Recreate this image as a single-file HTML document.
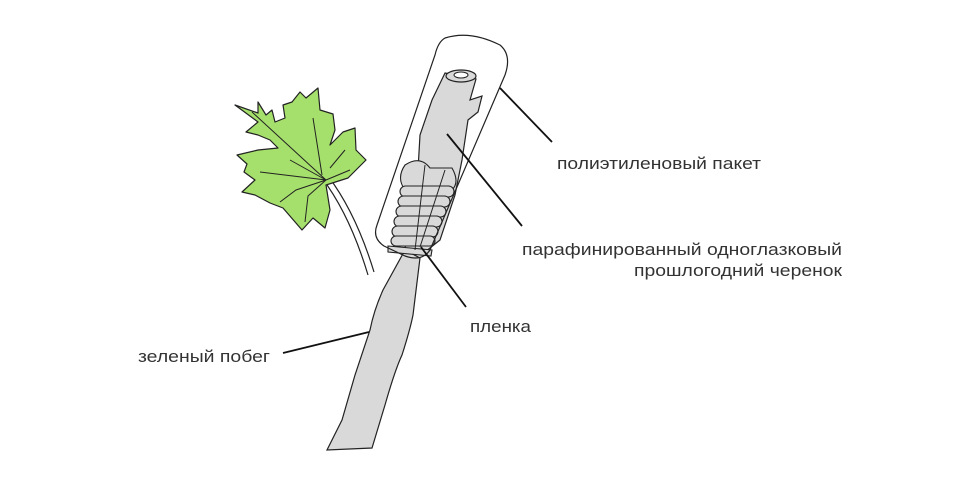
<!DOCTYPE html>
<html><head><meta charset="utf-8"><style>
html,body{margin:0;padding:0;background:#fff}
svg{display:block}
text{font-family:"Liberation Sans",sans-serif;font-size:17px;fill:#333}
</style></head><body>
<svg width="960" height="480" viewBox="0 0 960 480" xmlns="http://www.w3.org/2000/svg">
<!-- leaf stem -->
<path d="M322,178 Q350,215 368,275" fill="none" stroke="#222" stroke-width="1.2"/>
<path d="M328,176 Q356,213 374,272" fill="none" stroke="#222" stroke-width="1.2"/>
<!-- leaf -->
<path d="M235,105 L258,113 L258,102 L266,115 L272,110 L275,122 L285,118 L283,105 L292,102 L300,92 L306,98 L318,88 L320,110 L333,114 L335,130 L330,145 L343,132 L355,128 L356,150 L366,160 L348,178 L326,185 L330,210 L325,228 L313,218 L302,230 L283,208 L270,203 L255,195 L242,192 L255,180 L244,172 L247,164 L237,155 L258,150 L278,148 L270,140 L258,135 L246,132 L258,122 Z" fill="#a6e06c" stroke="#222" stroke-width="1.2" stroke-linejoin="round"/>
<path d="M252,112 L326,180 M313,118 L322,175 M290,160 L326,180 M260,172 L326,180 L296,190 L280,202 M326,180 L350,170 M326,180 L308,196 L305,222 M345,150 L330,168" fill="none" stroke="#222" stroke-width="1"/>
<!-- green shoot -->
<path d="M405,250 L383,290 Q374,310 370,330 L355,375 L342,420 L327,450 L372,448 L385,405 Q395,370 402,355 Q410,330 413,315 L420,258 Z" fill="#d9d9d9" stroke="#222" stroke-width="1.2"/>
<!-- cutting -->
<path d="M445,73 L476,79 L470,100 L482,96 L478,112 L468,120 L462,160 L455,195 L440,240 L425,252 L405,248 L410,215 L418,170 L420,135 L432,100 Z" fill="#d9d9d9" stroke="#222" stroke-width="1.2"/>
<ellipse cx="461" cy="76" rx="15" ry="6" fill="#d9d9d9" stroke="#222" stroke-width="1.2"/>
<ellipse cx="461" cy="75" rx="7" ry="3" fill="#fff" stroke="#222" stroke-width="1"/>
<!-- wrapping film -->
<g fill="#d9d9d9" stroke="#222" stroke-width="1.1">
<path d="M405,165 Q420,155 430,168 L452,168 Q460,182 452,190 L405,190 Q396,178 405,165 Z"/>
<rect x="400" y="186" width="54" height="11" rx="5.5"/>
<rect x="398" y="196" width="52" height="11" rx="5.5"/>
<rect x="396" y="206" width="50" height="11" rx="5.5"/>
<rect x="394" y="216" width="48" height="11" rx="5.5"/>
<rect x="392" y="226" width="46" height="11" rx="5.5"/>
<rect x="391" y="236" width="44" height="10" rx="5"/>
<path d="M388,246 L432,250 L431,256 L388,252 Z"/>
</g>
<path d="M425,165 L415,250 M445,170 L420,247" stroke="#222" stroke-width="1" fill="none"/>
<!-- bag -->
<path d="M445,38 Q470,30 500,45 Q512,55 505,75 L430,250 Q422,262 405,256 L384,246 Q372,238 377,225 L435,55 Q438,42 445,38 Z" fill="none" stroke="#222" stroke-width="1.2"/>
<!-- leaders -->
<g stroke="#111" stroke-width="1.8">
<line x1="500" y1="88" x2="552" y2="142"/>
<line x1="447" y1="134" x2="522" y2="226"/>
<line x1="421" y1="247" x2="466" y2="307"/>
<line x1="283" y1="353" x2="369" y2="332"/>
</g>
<text x="557" y="169" textLength="204" lengthAdjust="spacingAndGlyphs">полиэтиленовый пакет</text>
<text x="522" y="255" textLength="320" lengthAdjust="spacingAndGlyphs">парафинированный одноглазковый</text>
<text x="634" y="276" textLength="208" lengthAdjust="spacingAndGlyphs">прошлогодний черенок</text>
<text x="470" y="332" textLength="61" lengthAdjust="spacingAndGlyphs">пленка</text>
<text x="138" y="362" textLength="132" lengthAdjust="spacingAndGlyphs">зеленый побег</text>
</svg>
</body></html>
